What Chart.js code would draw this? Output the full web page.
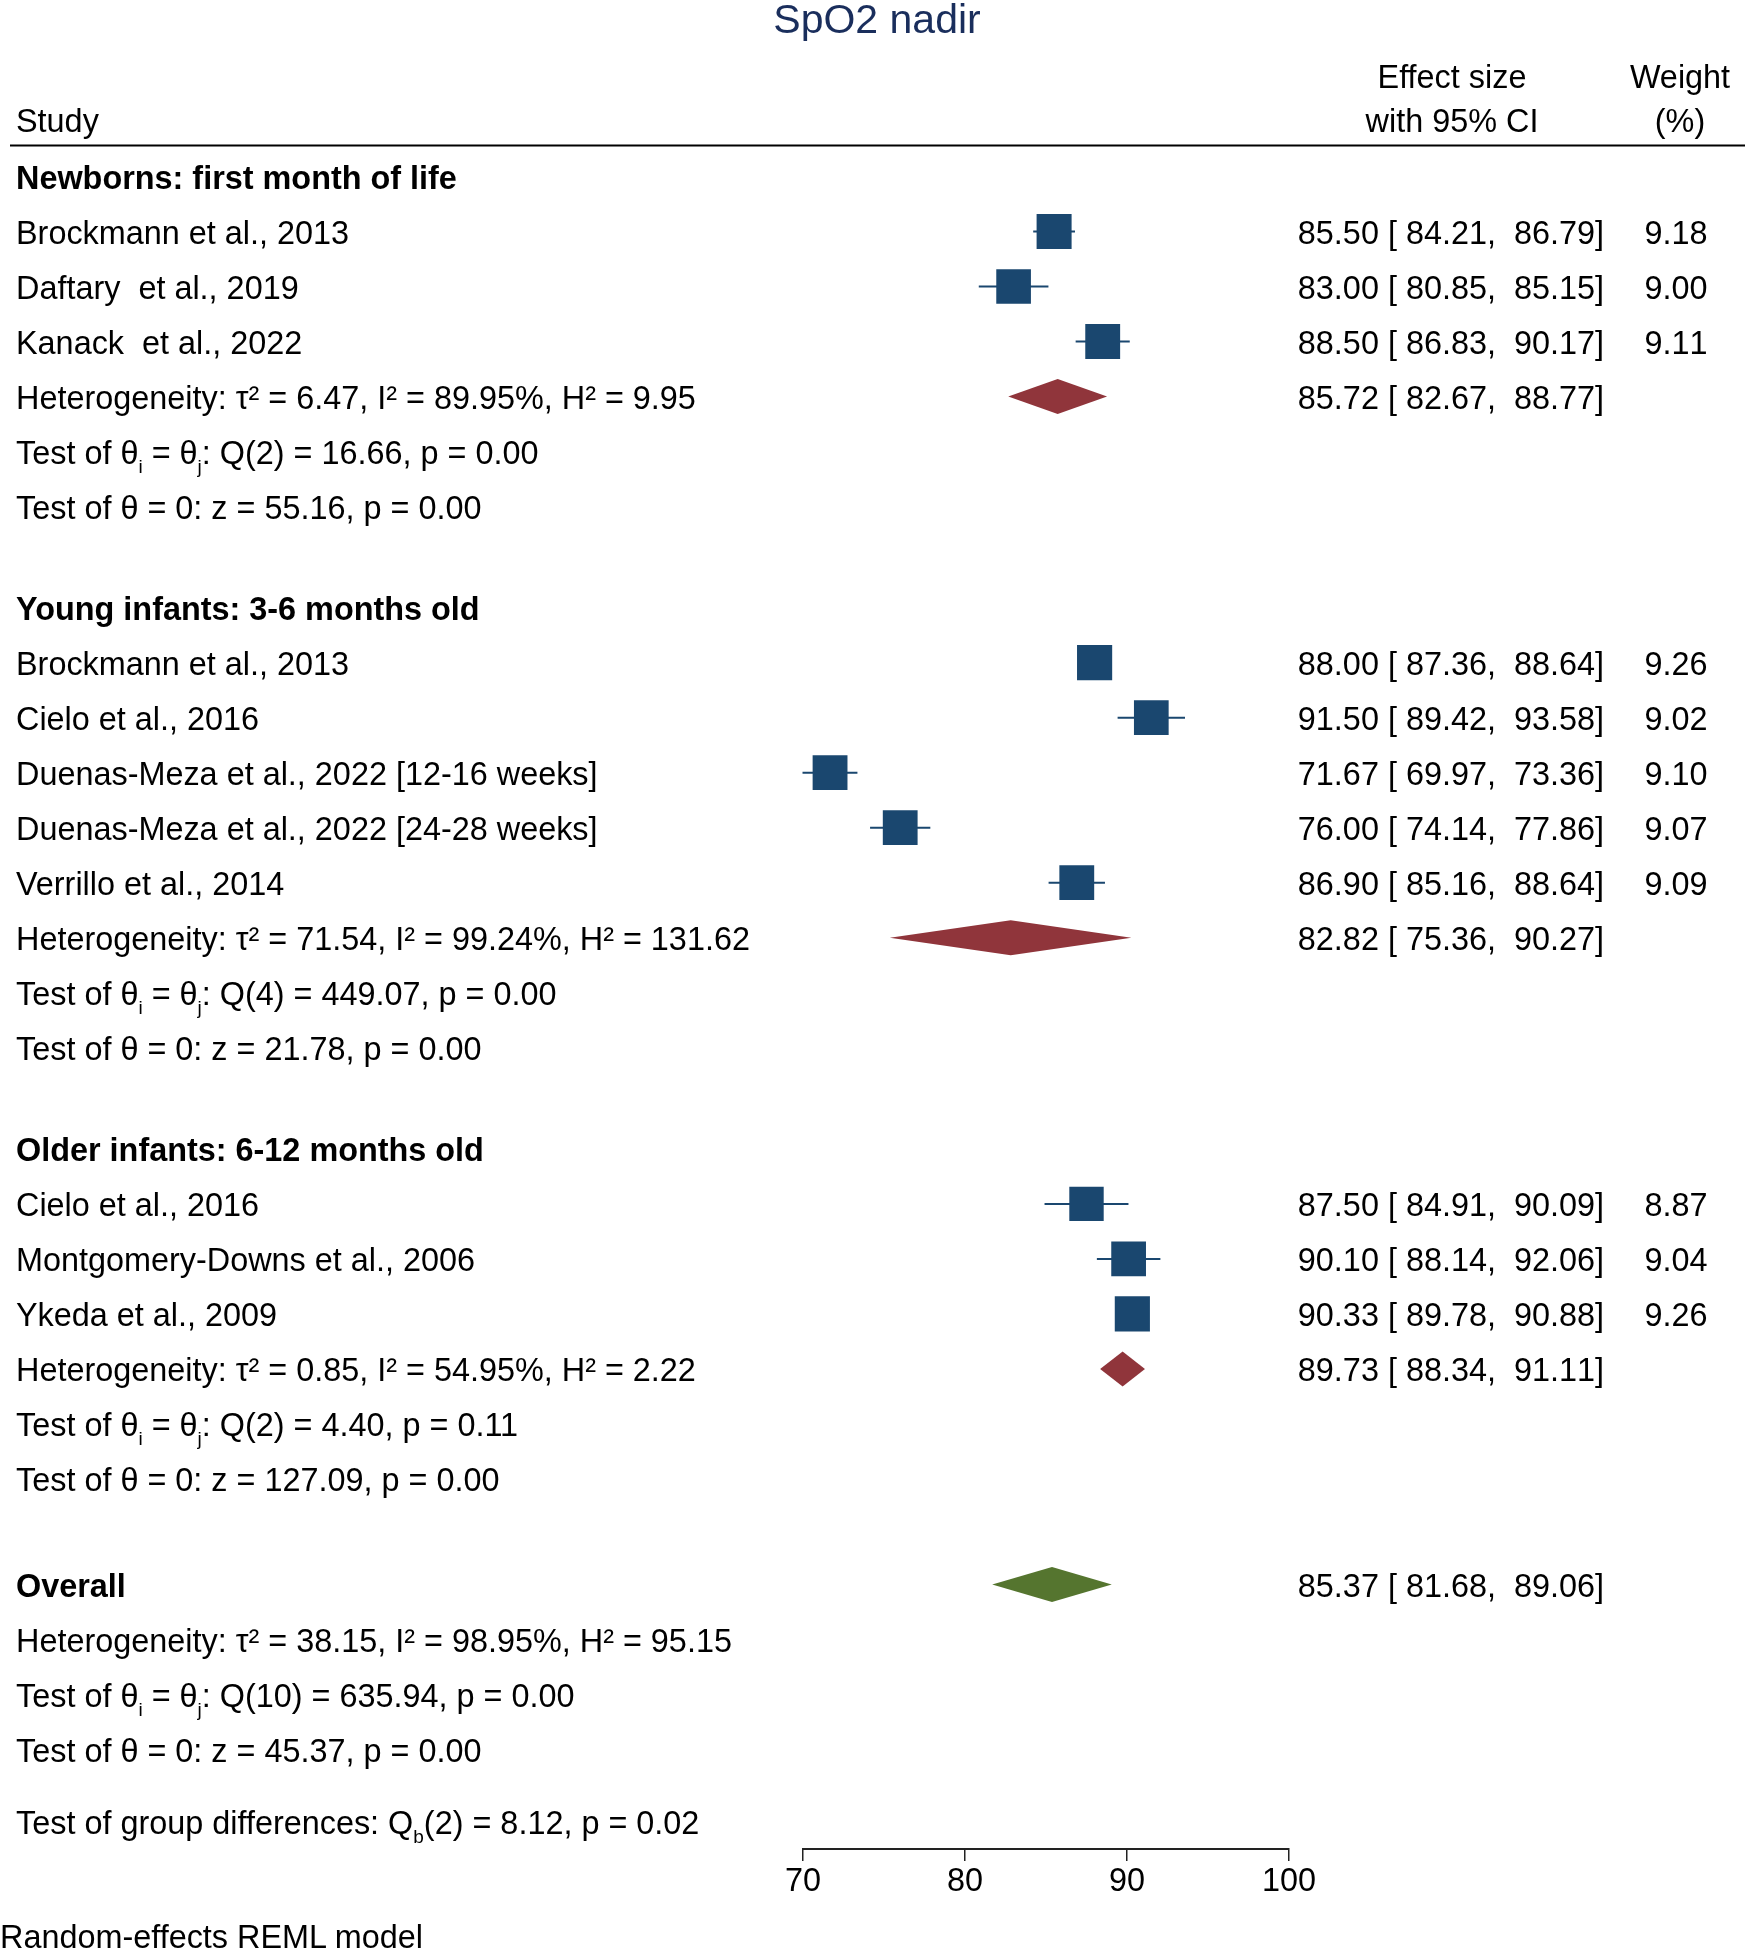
<!DOCTYPE html>
<html>
<head>
    <title>SpO2 nadir - forest plot</title>
    <script src="https://cdn.jsdelivr.net/npm/chart.js@4.4.0/dist/chart.umd.min.js"></script>
    <style>
        body { margin: 0; background: #fff; }
        #forest { display: block; }
    </style>
</head>
<body>
<canvas id="forest" width="1746" height="1950"></canvas>
<script>
// ---- data ----
const chartTitle = 'SpO2 nadir';
const groupNames = ['Newborns: first month of life', 'Young infants: 3-6 months old', 'Older infants: 6-12 months old'];
const studyNames = [
    ['Brockmann et al., 2013', 'Daftary  et al., 2019', 'Kanack  et al., 2022'],
    ['Brockmann et al., 2013', 'Cielo et al., 2016', 'Duenas-Meza et al., 2022 [12-16 weeks]', 'Duenas-Meza et al., 2022 [24-28 weeks]', 'Verrillo et al., 2014'],
    ['Cielo et al., 2016', 'Montgomery-Downs et al., 2006', 'Ykeda et al., 2009']
];
const studyES = [[85.50, 83.00, 88.50], [88.00, 91.50, 71.67, 76.00, 86.90], [87.50, 90.10, 90.33]];
const studyLo = [[84.21, 80.85, 86.83], [87.36, 89.42, 69.97, 74.14, 85.16], [84.91, 88.14, 89.78]];
const studyHi = [[86.79, 85.15, 90.17], [88.64, 93.58, 73.36, 77.86, 88.64], [90.09, 92.06, 90.88]];
const studyWeight = [[9.18, 9.00, 9.11], [9.26, 9.02, 9.10, 9.07, 9.09], [8.87, 9.04, 9.26]];

const groupES = [85.72, 82.82, 89.73];
const groupLo = [82.67, 75.36, 88.34];
const groupHi = [88.77, 90.27, 91.11];
const groupHet = ['τ² = 6.47, I² = 89.95%, H² = 9.95', 'τ² = 71.54, I² = 99.24%, H² = 131.62', 'τ² = 0.85, I² = 54.95%, H² = 2.22'];
const groupQ = ['Q(2) = 16.66, p = 0.00', 'Q(4) = 449.07, p = 0.00', 'Q(2) = 4.40, p = 0.11'];
const groupZ = ['z = 55.16, p = 0.00', 'z = 21.78, p = 0.00', 'z = 127.09, p = 0.00'];

const overallES = 85.37, overallLo = 81.68, overallHi = 89.06;
const overallHet = 'τ² = 38.15, I² = 98.95%, H² = 95.15';
const overallQ = 'Q(10) = 635.94, p = 0.00';
const overallZ = 'z = 45.37, p = 0.00';
const groupDiff = 'Q_{b}(2) = 8.12, p = 0.02';
const modelNote = 'Random-effects REML model';
const xTicks = [70, 80, 90, 100];

// ---- styles / layout ----
const NAVY = '#1a476f', MAROON = '#90353b', GREEN = '#55752f', TITLE = '#1a2e5c';
const FONT = '"Liberation Sans", Arial, Helvetica, sans-serif';
const FS = 32.4;
const ROW_PX = 55;
const GROUP_GAP = 1.84, OVERALL_GAP = 1.92, DIFF_GAP = 1.32;

// build row list (y in row units)
const rows = [];
let r = 0;
groupNames.forEach((g, gi) => {
    if (gi > 0) r += GROUP_GAP;
    rows.push({ y: r, label: g, bold: true });
    studyNames[gi].forEach((s, si) => {
        r += 1;
        rows.push({ y: r, label: s, kind: 'study', es: studyES[gi][si], lo: studyLo[gi][si], hi: studyHi[gi][si], w: studyWeight[gi][si] });
    });
    r += 1;
    rows.push({ y: r, label: 'Heterogeneity: ' + groupHet[gi], kind: 'sum', es: groupES[gi], lo: groupLo[gi], hi: groupHi[gi], color: MAROON });
    r += 1; rows.push({ y: r, label: 'Test of θ_{i} = θ_{j}: ' + groupQ[gi] });
    r += 1; rows.push({ y: r, label: 'Test of θ = 0: ' + groupZ[gi] });
});
r += OVERALL_GAP;
rows.push({ y: r, label: 'Overall', bold: true, kind: 'sum', es: overallES, lo: overallLo, hi: overallHi, color: GREEN });
r += 1; rows.push({ y: r, label: 'Heterogeneity: ' + overallHet });
r += 1; rows.push({ y: r, label: 'Test of θ_{i} = θ_{j}: ' + overallQ });
r += 1; rows.push({ y: r, label: 'Test of θ = 0: ' + overallZ });
r += DIFF_GAP;
rows.push({ y: r, label: 'Test of group differences: ' + groupDiff });

const studyRows = rows.filter(d => d.kind === 'study');
const ciData = [];
studyRows.forEach(d => { ciData.push({ x: d.lo, y: d.y }, { x: d.hi, y: d.y }, { x: d.hi, y: null }); });

const fmt = v => v.toFixed(2);
const esText = d => `${fmt(d.es)} [ ${fmt(d.lo)},  ${fmt(d.hi)}]`;

// text with _{sub} markup; numeric columns drawn without kerning so digits line up
function drawRich(ctx, str, x, y, align, bold, numeric) {
    const parts = [];
    const re = /_\{([^}]*)\}/g;
    let last = 0, m;
    while ((m = re.exec(str)) !== null) {
        if (m.index > last) parts.push({ t: str.slice(last, m.index), sub: false });
        parts.push({ t: m[1], sub: true });
        last = re.lastIndex;
    }
    if (last < str.length) parts.push({ t: str.slice(last), sub: false });
    const mainFont = `${bold ? 'bold ' : ''}${FS}px ${FONT}`;
    const subFont = `${Math.round(FS * 0.6)}px ${FONT}`;
    ctx.fontKerning = numeric ? 'none' : 'normal';
    let total = 0;
    parts.forEach(p => { ctx.font = p.sub ? subFont : mainFont; p.w = ctx.measureText(p.t).width; total += p.w; });
    let cx = align === 'right' ? x - total : align === 'center' ? x - total / 2 : x;
    ctx.textAlign = 'left';
    ctx.textBaseline = 'alphabetic';
    parts.forEach(p => {
        ctx.font = p.sub ? subFont : mainFont;
        ctx.fillText(p.t, cx, p.sub ? y + 9 : y);
        cx += p.w;
    });
}

const forestText = {
    id: 'forestText',
    afterDatasetsDraw(chart) {
        const ctx = chart.ctx, xs = chart.scales.x, ys = chart.scales.y;
        ctx.save();
        // summary diamonds
        rows.filter(d => d.kind === 'sum').forEach(d => {
            const yc = ys.getPixelForValue(d.y);
            ctx.beginPath();
            ctx.moveTo(xs.getPixelForValue(d.lo), yc);
            ctx.lineTo(xs.getPixelForValue(d.es), yc - 17.5);
            ctx.lineTo(xs.getPixelForValue(d.hi), yc);
            ctx.lineTo(xs.getPixelForValue(d.es), yc + 17.5);
            ctx.closePath();
            ctx.fillStyle = d.color;
            ctx.fill();
        });
        ctx.restore();
    },
    afterDraw(chart) {
        const ctx = chart.ctx, ys = chart.scales.y;
        ctx.save();
        ctx.fillStyle = TITLE;
        ctx.font = `41px ${FONT}`;
        ctx.textAlign = 'center';
        ctx.textBaseline = 'alphabetic';
        ctx.fillText(chartTitle, 877, 33);

        ctx.fillStyle = '#000';
        drawRich(ctx, 'Study', 16, 132, 'left');
        drawRich(ctx, 'Effect size', 1452, 88, 'center');
        drawRich(ctx, 'with 95% CI', 1452, 132, 'center');
        drawRich(ctx, 'Weight', 1680, 88, 'center');
        drawRich(ctx, '(%)', 1680, 132, 'center');

        ctx.strokeStyle = '#000';
        ctx.lineWidth = 2;
        ctx.beginPath();
        ctx.moveTo(10, 145.5);
        ctx.lineTo(1745, 145.5);
        ctx.stroke();

        rows.forEach(d => {
            const base = ys.getPixelForValue(d.y) + 12;
            drawRich(ctx, d.label, 16, base, 'left', d.bold);
            if (d.es !== undefined) drawRich(ctx, esText(d), 1604, base, 'right', false, true);
            if (d.w !== undefined) drawRich(ctx, fmt(d.w), 1676, base, 'center', false, true);
        });

        drawRich(ctx, modelNote, 0, 1948, 'left');
        ctx.restore();
    }
};

new Chart(document.getElementById('forest'), {
    type: 'scatter',
    data: {
        datasets: [
            {
                label: 'CI',
                data: ciData,
                showLine: true,
                spanGaps: false,
                borderColor: NAVY,
                borderWidth: 2,
                pointRadius: 0,
                clip: false,
                order: 2
            },
            {
                label: 'Studies',
                data: studyRows.map(d => ({ x: d.es, y: d.y })),
                pointStyle: 'rect',
                pointRadius: studyRows.map(d => 35 * Math.sqrt(d.w / 9.18) / (2 * Math.SQRT1_2)),
                backgroundColor: NAVY,
                borderWidth: 0,
                clip: false,
                order: 1
            }
        ]
    },
    options: {
        responsive: false,
        animation: false,
        events: [],
        layout: { padding: { left: 803, right: 457, top: 150, bottom: 0 } },
        plugins: { legend: { display: false }, tooltip: { enabled: false }, title: { display: false } },
        scales: {
            x: {
                type: 'linear',
                min: xTicks[0],
                max: xTicks[xTicks.length - 1],
                afterBuildTicks: s => { s.ticks = xTicks.map(v => ({ value: v })); },
                afterFit: s => { s.height = 101; },
                border: { display: true, color: '#222', width: 2 },
                grid: { drawOnChartArea: false, drawTicks: true, tickLength: 12, color: '#222', lineWidth: 1.5 },
                ticks: { color: '#000', font: { family: FONT, size: FS }, padding: 2, maxRotation: 0 }
            },
            y: {
                type: 'linear',
                display: false,
                reverse: true,
                min: -(176.5 - 150) / ROW_PX,
                max: (1849 - 176.5) / ROW_PX
            }
        }
    },
    plugins: [forestText]
});
</script>
</body>
</html>
